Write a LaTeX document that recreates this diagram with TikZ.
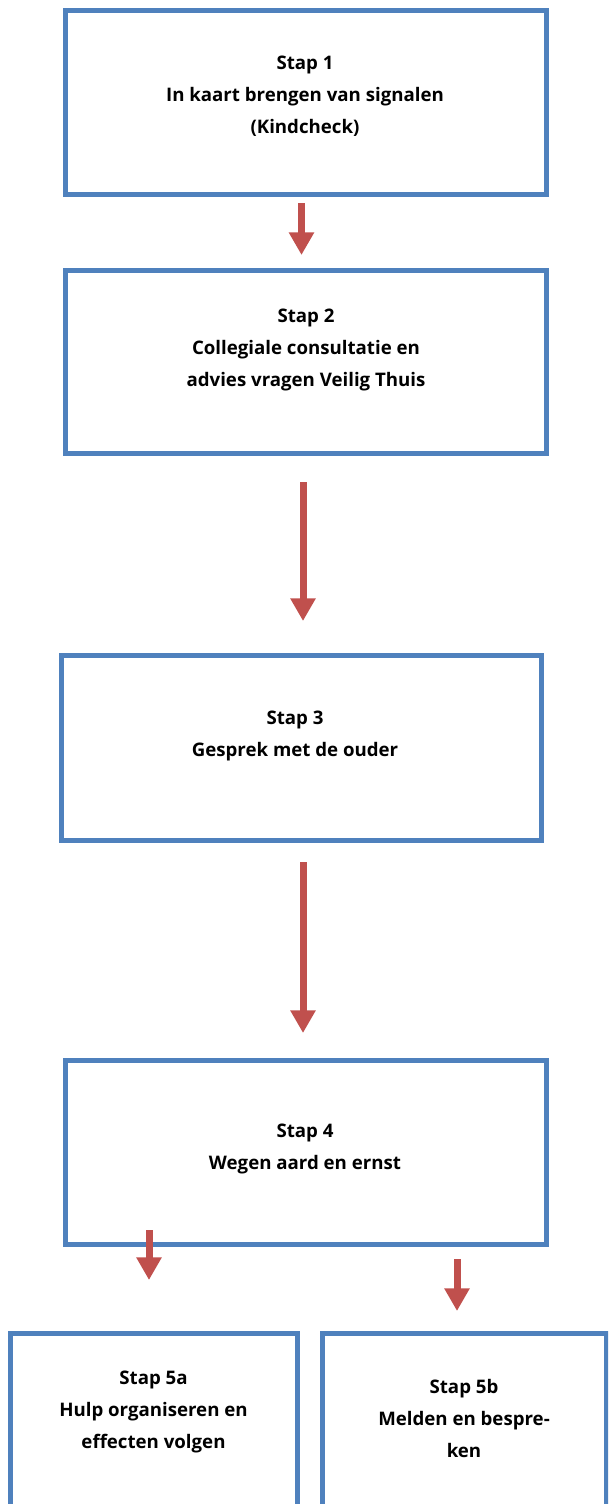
\documentclass[tikz,border=0pt]{standalone}
\usepackage{fontspec}
\setmainfont{Open Sans}
\usepackage{xcolor}
\usetikzlibrary{arrows.meta}
\definecolor{boxblue}{RGB}{79,129,189}
\definecolor{arrowred}{RGB}{192,80,77}

\begin{document}
\begin{tikzpicture}[x=0.75pt,y=-0.75pt,
		stap box/.style 2 args={draw=boxblue,line width=3.75pt,minimum width=#1*0.75pt,minimum height=#2*0.75pt,inner sep=0pt},
		stap text/.style={align=center,font=\fontsize{14}{24}\selectfont\bfseries},
		stap arrow/.style={draw=arrowred,line width=5.25pt,-{Triangle[width=18pt,length=17pt]},arrowred}]

			% Page
			\clip (0,0) rectangle (608,1504);

			% Boxes
			\node[stap box={481}{184}] (S1) at (305.5, 102) {};
			\node[stap box={481}{183}] (S2) at (305.5, 361.5) {};
			\node[stap box={480}{185}] (S3) at (301, 747.5) {};
			\node[stap box={481}{184}] (S4) at (305.5, 1152) {};
			\node[stap box={287}{192}] (S5a) at (154, 1429) {};
			\node[stap box={284}{192}] (S5b) at (464, 1429) {};

			% Texts
			\node[stap text] (T1) at (305, 96) {Stap 1\\In kaart brengen van signalen\\(Kindcheck)};
			\node[stap text] (T2) at (306, 350) {Stap 2\\Collegiale consultatie en\\advies vragen Veilig Thuis};
			\node[stap text] (T3) at (295, 736) {Stap 3\\Gesprek met de ouder};
			\node[stap text] (T4) at (305, 1149) {Stap 4\\Wegen aard en ernst};
			\node[stap text] (T5a) at (153.5, 1412) {Stap 5a\\Hulp organiseren en\\effecten volgen};
			\node[stap text] (T5b) at (464, 1418) {Stap 5b\\Melden en bespre-\\ken};

			% Arrow ends
			\coordinate (A1s) at (301.5, 203);
			\coordinate (A1e) at (301.5, 255);
			\coordinate (A2s) at (303, 482);
			\coordinate (A2e) at (303, 621);
			\coordinate (A3s) at (303, 862);
			\coordinate (A3e) at (303, 1033);
			\coordinate (A4s) at (149, 1230);
			\coordinate (A4e) at (149, 1280);
			\coordinate (A5s) at (457, 1259);
			\coordinate (A5e) at (457, 1311);

			% Arrows
			\draw[stap arrow] (A1s) -- (A1e);
			\draw[stap arrow] (A2s) -- (A2e);
			\draw[stap arrow] (A3s) -- (A3e);
			\draw[stap arrow] (A4s) -- (A4e);
			\draw[stap arrow] (A5s) -- (A5e);

		\end{tikzpicture}
\end{document}
